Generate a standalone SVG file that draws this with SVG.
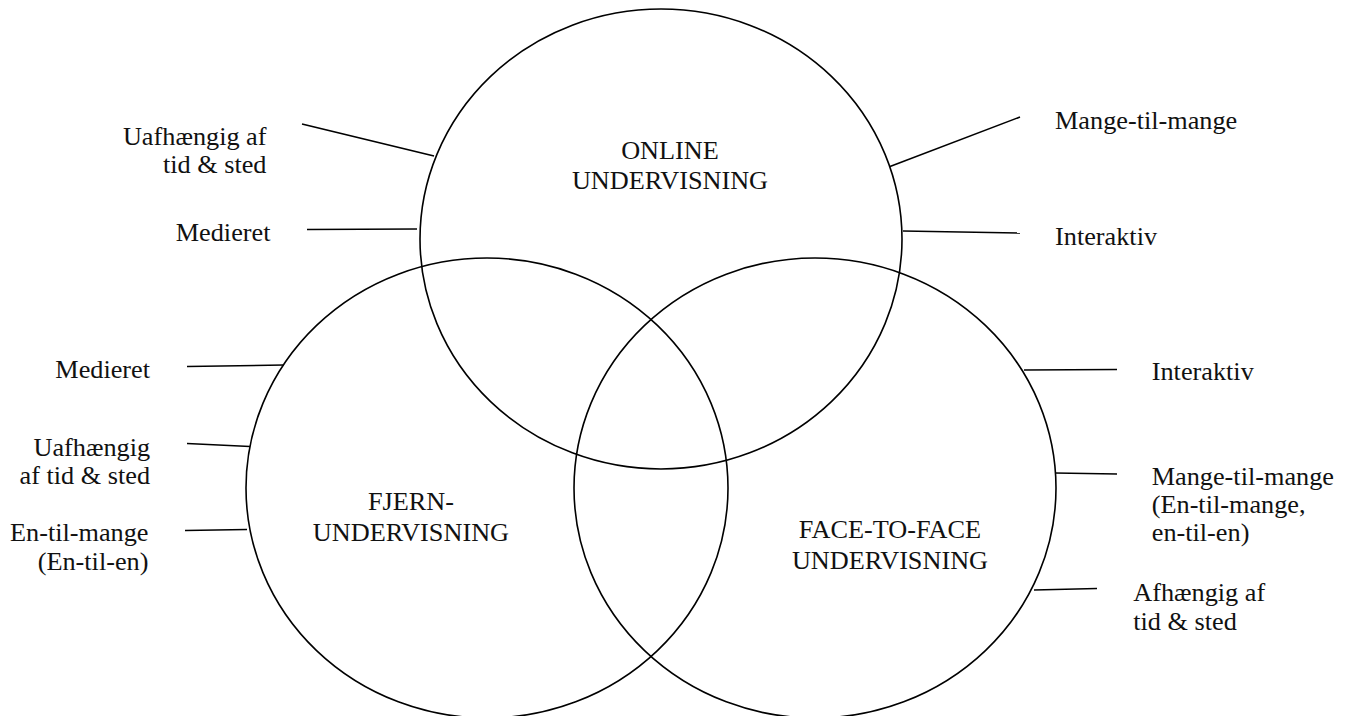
<svg xmlns="http://www.w3.org/2000/svg" width="1351" height="716" viewBox="0 0 1351 716">
  <style>
    .c { fill: none; stroke: #000; stroke-width: 1.6; }
    .l { stroke: #000; stroke-width: 1.6; fill: none; }
    .t { font-family: 'Liberation Serif', 'Tinos', 'DejaVu Serif', serif; font-size: 25px; fill: #111; }
    .m { text-anchor: middle; }
    .e { text-anchor: end; }
  </style>
  <rect width="1351" height="716" fill="#fff"/>
  <g id="node-online"><ellipse class="c" cx="661" cy="239" rx="241" ry="230"/></g>
  <g id="node-fjern"><ellipse class="c" cx="487" cy="488" rx="241" ry="230"/></g>
  <g id="node-face"><ellipse class="c" cx="815" cy="488" rx="241" ry="230"/></g>
  <g id="connectors">
    <line class="l" x1="302" y1="124" x2="434" y2="156"/>
    <line class="l" x1="307" y1="229.5" x2="417" y2="229"/>
    <line class="l" x1="890" y1="166.5" x2="1020" y2="117"/>
    <line class="l" x1="903" y1="231" x2="1020" y2="233"/>
    <line class="l" x1="187" y1="366.5" x2="284" y2="365"/>
    <line class="l" x1="187" y1="443.5" x2="250" y2="446.5"/>
    <line class="l" x1="185" y1="530.5" x2="247" y2="529.5"/>
    <line class="l" x1="1024" y1="370" x2="1117" y2="369.5"/>
    <line class="l" x1="1055" y1="473" x2="1117" y2="474"/>
    <line class="l" x1="1034" y1="590" x2="1097" y2="588.5"/>
  </g>
  <g id="labels" class="t" font-family="Liberation Serif, serif" transform="scale(1.05,1)">
    <g id="label-online">
      <text class="t m" x="638.1" y="159">ONLINE</text>
      <text class="t m" x="638.1" y="189.5">UNDERVISNING</text>
    </g>
    <g id="label-fjern">
      <text class="t m" x="391.4" y="510.5">FJERN-</text>
      <text class="t m" x="391.4" y="541.5">UNDERVISNING</text>
    </g>
    <g id="label-face">
      <text class="t m" x="847.6" y="538">FACE-TO-FACE</text>
      <text class="t m" x="847.6" y="569">UNDERVISNING</text>
    </g>
    <g id="attr-online-left">
      <text class="t e" x="253.8" y="145">Uafhængig af</text>
      <text class="t e" x="253.8" y="173">tid &amp; sted</text>
      <text class="t e" x="257.6" y="241.5">Medieret</text>
    </g>
    <g id="attr-online-right">
      <text class="t" x="1004.8" y="129.5">Mange-til-mange</text>
      <text class="t" x="1004.8" y="245">Interaktiv</text>
    </g>
    <g id="attr-fjern">
      <text class="t e" x="142.9" y="378">Medieret</text>
      <text class="t e" x="142.9" y="456">Uafhængig</text>
      <text class="t e" x="142.9" y="484">af tid &amp; sted</text>
      <text class="t e" x="141.4" y="541.5">En-til-mange</text>
      <text class="t e" x="141.4" y="570">(En-til-en)</text>
    </g>
    <g id="attr-face">
      <text class="t" x="1096.9" y="380.5">Interaktiv</text>
      <text class="t" x="1096.9" y="485.5">Mange-til-mange</text>
      <text class="t" x="1096.9" y="513.5">(En-til-mange,</text>
      <text class="t" x="1096.9" y="541.5">en-til-en)</text>
      <text class="t" x="1079.3" y="601.5">Afhængig af</text>
      <text class="t" x="1079.3" y="630">tid &amp; sted</text>
    </g>
  </g>
</svg>
